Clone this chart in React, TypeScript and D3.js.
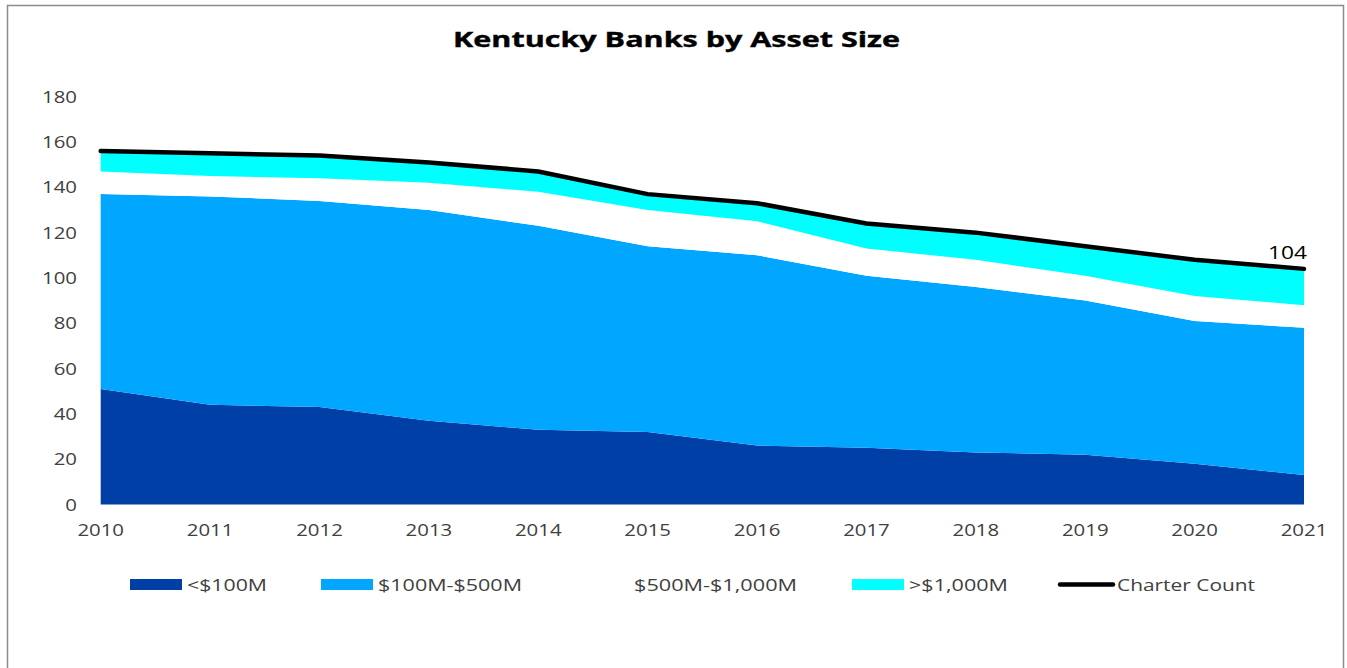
import React from 'react';
import * as d3 from 'd3';

// Kentucky bank charters by asset size, 2010-2021
const years = [2010, 2011, 2012, 2013, 2014, 2015, 2016, 2017, 2018, 2019, 2020, 2021];
const under100M = [51, 44, 43, 37, 33, 32, 26, 25, 23, 22, 18, 13];
const from100to500M = [86, 92, 91, 93, 90, 82, 84, 76, 73, 68, 63, 65];
const from500Mto1B = [10, 9, 10, 12, 15, 16, 15, 12, 12, 11, 11, 10];
const over1B = [9, 10, 10, 9, 9, 7, 8, 11, 12, 13, 16, 16];
const charterCount = [156, 155, 154, 151, 147, 137, 133, 124, 120, 114, 108, 104];

const seriesNames = ['<$100M', '$100M-$500M', '$500M-$1,000M', '>$1,000M'];
const seriesColors = ['#0040a6', '#00a6ff', '#ffffff', '#00ffff'];
const yTicks = [0, 20, 40, 60, 80, 100, 120, 140, 160, 180];

const W = 1347;
const H = 668;
const font = '"Open Sans", Arial, sans-serif';

// legend layout (swatch left edge, text width)
const legendX = [130, 321, 577, 852, 1058];
const legendTextW = [80, 144, 163, 99, 138];

const App: React.FC = () => {
  const x = d3.scaleLinear().domain([2010, 2021]).range([100.7, 1304]);
  const y = d3.scaleLinear().domain([0, 180]).range([504.5, 96.7]);

  const table = years.map((yr, i) => ({
    year: yr,
    s0: under100M[i],
    s1: from100to500M[i],
    s2: from500Mto1B[i],
    s3: over1B[i],
  }));
  const stacked = d3.stack<any>().keys(['s0', 's1', 's2', 's3'])(table);

  const area = d3.area<any>()
    .x(d => x(d.data.year))
    .y0(d => y(d[0]))
    .y1(d => y(d[1]));

  const line = d3.line<number>()
    .x((_, i) => x(years[i]))
    .y(d => y(d));

  const last = years.length - 1;

  return (
    <svg width={W} height={H} style={{ position: 'absolute', left: 0, top: 0, background: '#fff' }}>
      <rect x={7.5} y={5.5} width={1336} height={700} fill="none" stroke="#8c8c8c" strokeWidth={1.5} />

      <text x={676.5} y={47} textAnchor="middle" fontFamily={font} fontWeight={700} fontSize={22}
        textLength={447} lengthAdjust="spacingAndGlyphs" fill="#000" stroke="#000" strokeWidth={0.4}>
        Kentucky Banks by Asset Size
      </text>

      {stacked.map((s, i) => (
        <path key={i} d={area(s) || ''} fill={seriesColors[i]} />
      ))}

      <path d={line(charterCount) || ''} fill="none" stroke="#000" strokeWidth={4.5}
        strokeLinejoin="round" strokeLinecap="round" />

      <text x={1307} y={259} textAnchor="end" fontFamily={font} fontSize={19} fill="#000"
        textLength={39} lengthAdjust="spacingAndGlyphs">
        {charterCount[last]}
      </text>

      {yTicks.map(t => (
        <g key={t} transform={`translate(77,${y(t) + 6}) scale(1.2,1)`}>
          <text textAnchor="end" fontFamily={font} fontSize={17} fill="#404040">{t}</text>
        </g>
      ))}

      {years.map(yr => (
        <g key={yr} transform={`translate(${x(yr)},536) scale(1.2,1)`}>
          <text textAnchor="middle" fontFamily={font} fontSize={17} fill="#404040">{yr}</text>
        </g>
      ))}

      {seriesNames.map((name, i) => (
        <g key={name}>
          <rect x={legendX[i]} y={579} width={52} height={11} fill={seriesColors[i]} />
          <text x={legendX[i] + 57} y={591} fontFamily={font} fontSize={17} fill="#404040"
            textLength={legendTextW[i]} lengthAdjust="spacingAndGlyphs">
            {name}
          </text>
        </g>
      ))}
      <line x1={legendX[4] + 2} x2={legendX[4] + 55} y1={584.5} y2={584.5} stroke="#000"
        strokeWidth={4.5} strokeLinecap="round" />
      <text x={legendX[4] + 59} y={591} fontFamily={font} fontSize={17} fill="#404040"
        textLength={legendTextW[4]} lengthAdjust="spacingAndGlyphs">
        Charter Count
      </text>
    </svg>
  );
};

export default App;
